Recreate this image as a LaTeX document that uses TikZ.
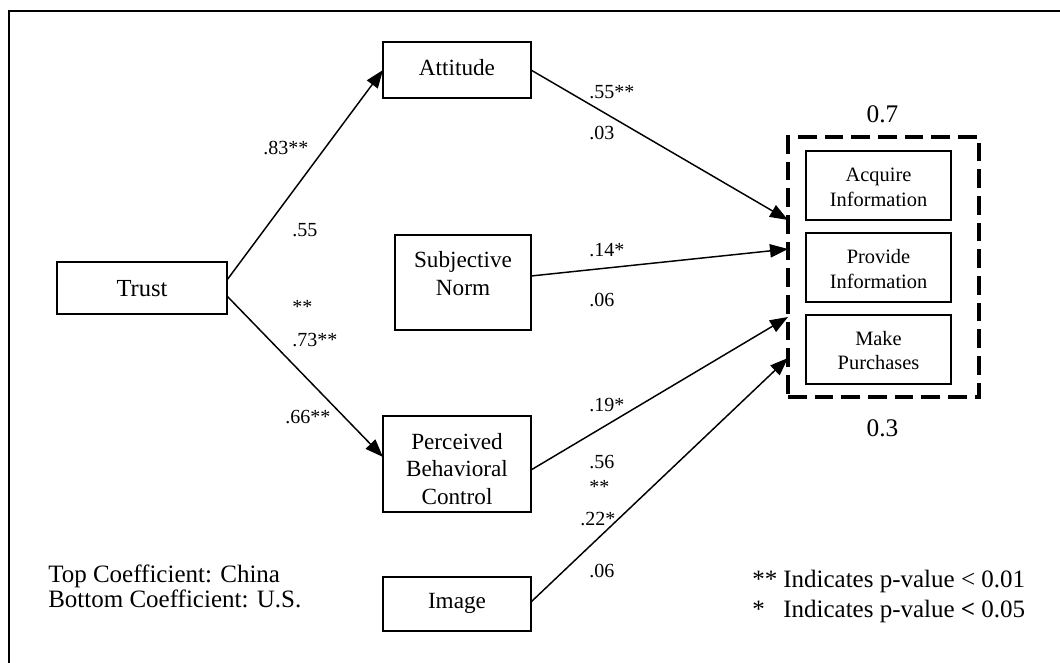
\documentclass[tikz,border=0pt]{standalone}
\usepackage{fontspec}
\setmainfont{Liberation Serif}
\usetikzlibrary{arrows.meta,calc}
\begin{document}
\begin{tikzpicture}[x=0.75pt,y=-0.75pt,
  box/.style={draw,line width=1.1pt,inner sep=0pt,outer sep=0pt},
  conn/.style={line width=1.1pt,-{Triangle[length=13.5pt,width=10pt]}},
  txt/.style={anchor=base,inner sep=0pt},
  big/.style={font=\fontsize{17.4}{20}\selectfont},
  small/.style={font=\fontsize{15.3}{18}\selectfont},
  coef/.style={anchor=base west,inner sep=0pt,font=\fontsize{15}{18}\selectfont},
  legend/.style={anchor=base west,inner sep=0pt,font=\fontsize{18.75}{22}\selectfont},
  rsq/.style={anchor=base,inner sep=0pt,font=\fontsize{19}{22}\selectfont}
]
\useasboundingbox (0,0) rectangle (1060,663);
\draw[line width=1.5pt] (8.5,11) rectangle (1070,675);

% boxes
\node[box,minimum width=127.5pt,minimum height=39pt] (trust) at (142,288) {};
\node[box,minimum width=111pt,minimum height=42pt] (att) at (457,70) {};
\node[box,minimum width=102pt,minimum height=71.25pt] (sn) at (463,282.5) {};
\node[box,minimum width=111pt,minimum height=72pt] (pbc) at (457,464) {};
\node[box,minimum width=111pt,minimum height=40.5pt] (img) at (457,604) {};
\node[draw,line width=2.5pt,dash pattern=on 14pt off 6pt,inner sep=0pt,outer sep=0pt,
      minimum width=143.25pt,minimum height=195pt] (dash) at (883.5,267) {};
\node[box,minimum width=108.75pt,minimum height=51.75pt] (acq) at (878.5,185.5) {};
\node[box,minimum width=108.75pt,minimum height=51.75pt] (prov) at (878.5,267.5) {};
\node[box,minimum width=108.75pt,minimum height=51.75pt] (make) at (878.5,349.5) {};

% box texts
\node[txt,font=\fontsize{18.4}{22}\selectfont] (trustT) at (142,296) {Trust};
\node[txt,big] (attT) at (457,76) {Attitude};
\node[txt,big] (snT1) at (463,267) {Subjective};
\node[txt,big] (snT2) at (463,295) {Norm};
\node[txt,big] (pbcT1) at (457,449) {Perceived};
\node[txt,big] (pbcT2) at (457,476) {Behavioral};
\node[txt,big] (pbcT3) at (457,504) {Control};
\node[txt,big] (imgT) at (457,608) {Image};
\node[txt,small] (acqT1) at (878.5,181) {Acquire};
\node[txt,small] (acqT2) at (878.5,206) {Information};
\node[txt,small] (provT1) at (878.5,263) {Provide};
\node[txt,small] (provT2) at (878.5,288) {Information};
\node[txt,small] (makeT1) at (878.5,345) {Make};
\node[txt,small] (makeT2) at (878.5,369) {Purchases};

\node[rsq] (r1) at (882.5,122.5) {0.7};
\node[rsq] (r2) at (882.5,436.5) {0.3};

% connectors
\draw[conn] ($(trust.east)+(0,-8)$) -- (att.west);
\draw[conn] ($(trust.east)+(0,8)$) -- ($(pbc.west)+(0,-7)$);
\draw[conn] (att.east) -- ($(dash.west)+(0,-47)$);
\draw[conn] ($(sn.east)+(0,-6.5)$) -- ($(dash.west)+(0,-18)$);
\draw[conn] ($(pbc.east)+(0,6)$) -- ($(dash.west)+(0,50)$);
\draw[conn] ($(img.east)+(0,-2)$) -- ($(dash.west)+(0,91)$);

% coefficients
\node[coef] (c1) at (263,155) {.83**};
\node[coef] (c2) at (292,236) {.55};
\node[coef] (c3) at (292,313) {**};
\node[coef] (c4) at (292,346) {.73**};
\node[coef] (c5) at (285,423) {.66**};
\node[coef] (c6) at (589,99) {.55**};
\node[coef] (c7) at (589,140) {.03};
\node[coef] (c8) at (589,256) {.14*};
\node[coef] (c9) at (589,306) {.06};
\node[coef] (c10) at (589,411) {.19*};
\node[coef] (c11) at (589,468) {.56};
\node[coef] (c12) at (589,493) {**};
\node[coef] (c13) at (580,525) {.22*};
\node[coef] (c14) at (589,577) {.06};

% legends
\node[legend] (l1) at (48,582) {Top Coefficient: China};
\node[legend] (l2) at (48,607) {Bottom Coefficient: U.S.};
\node[legend] (l3) at (752,587) {\makebox[23.25pt][l]{**}Indicates p-value < 0.01};
\node[legend] (l4) at (752,617) {\makebox[23.25pt][l]{*}Indicates p-value \textbf{<} 0.05};
\end{tikzpicture}
\end{document}
